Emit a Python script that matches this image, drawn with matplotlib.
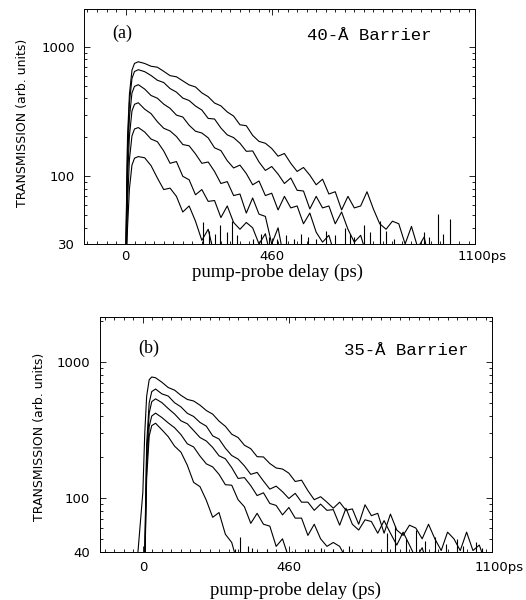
import matplotlib
matplotlib.use('Agg')
import matplotlib.pyplot as plt
from matplotlib.ticker import FixedLocator, NullFormatter, MultipleLocator

# pump-probe delay grid (ps), shared by every trace
delay = [-40, 0, 6, 12, 20, 28, 40, 60, 80, 100, 120, 140, 160, 180, 200, 220,
         240, 260, 280, 300, 320, 340, 360, 380, 400, 420, 440, 460, 480, 500,
         520, 540, 560, 580, 600, 620, 640, 660, 680, 700, 720, 740, 760, 780,
         800, 820, 840, 860, 880, 900, 920, 940, 960, 980, 1000, 1020, 1040,
         1060, 1080]

# (a) 40-A barrier, six excitation levels (transmission, arb. units)
a1 = [5, 22, 200, 430, 660, 745, 767, 744, 708, 696, 647, 599, 587, 546, 508, 490,
      441, 412, 368, 350, 314, 292, 250, 246, 207, 186, 180, 164, 143, 150, 126,
      109, 117, 102, 86, 95, 73, 76, 55, 70, 57, 59, 76, 56, 43, 39, 45, 43, 30,
      41, 28, 34, 20]
a2 = [5, 20, 170, 370, 570, 645, 666, 643, 601, 552, 530, 476, 447, 402, 385, 349,
      325, 280, 277, 236, 209, 199, 180, 156, 157, 129, 111, 119, 104, 88, 97, 78,
      77, 56, 70, 57, 59, 43, 53, 39, 31, 35, 24, 15]
a3 = [5, 18, 130, 285, 440, 495, 510, 472, 421, 401, 361, 335, 297, 287, 248, 223,
      216, 198, 166, 158, 132, 116, 122, 105, 86, 92, 71, 74, 55, 70, 57, 59, 43,
      52, 37, 31, 35, 24, 14]
a4 = [5, 16, 95, 205, 320, 360, 370, 330, 305, 264, 235, 224, 203, 176, 172, 149,
      126, 129, 109, 88, 91, 71, 73, 52, 68, 51, 49, 30, 40, 22, 14]
a5 = [5, 15, 62, 135, 205, 232, 238, 220, 194, 185, 157, 126, 130, 100, 94, 72, 79,
      64, 65, 48, 59, 44, 39, 44, 40, 30, 36, 22, 14]
a6 = [5, 14, 40, 80, 122, 138, 142, 139, 121, 97, 79, 81, 70, 53, 59, 45, 32, 39,
      24, 14]
spike_a_t = [245, 262, 280, 298, 318, 336, 352, 400, 425, 450, 478, 505, 530, 552,
             575, 600, 630, 660, 690, 705, 720, 750, 770, 800, 820, 845, 940, 955,
             985, 1000, 1020]
spike_a_v = [44, 38, 36, 42, 37, 45, 35, 33, 36, 34, 33, 35, 33, 36, 34, 33, 38, 35,
             40, 36, 34, 42, 37, 45, 38, 33, 37, 34, 51, 36, 47]

# (b) 35-A barrier, five excitation levels
b1 = [8, 110, 300, 560, 740, 775, 765, 709, 648, 620, 568, 530, 516, 481, 439, 413,
      367, 336, 294, 278, 244, 230, 201, 200, 179, 166, 163, 152, 132, 135, 113,
      97, 102, 93, 84, 93, 81, 83, 64, 89, 74, 77, 55, 76, 58, 53, 63, 60, 50, 64,
      50, 41, 56, 50, 41, 56, 41, 45, 33]
b2 = [5, 12, 40, 250, 500, 605, 632, 582, 561, 501, 467, 419, 397, 359, 337, 286,
      271, 232, 205, 193, 172, 149, 154, 133, 116, 122, 111, 99, 108, 93, 93, 81,
      90, 81, 82, 63, 84, 64, 58, 69, 67, 55, 68, 55, 45, 56, 45, 36, 43, 30, 40,
      25]
b3 = [5, 12, 36, 210, 420, 510, 535, 502, 454, 414, 369, 351, 313, 278, 262, 235,
      204, 194, 167, 139, 141, 123, 104, 109, 91, 88, 75, 85, 71, 71, 53, 64, 50,
      44, 47, 44, 36, 40, 28, 18]
b4 = [5, 11, 32, 165, 335, 400, 420, 390, 356, 328, 292, 250, 237, 203, 178, 169,
      149, 125, 124, 97, 86, 65, 77, 64, 62, 44, 50, 36, 38, 26, 16]
b5 = [5, 10, 30, 140, 285, 340, 354, 317, 282, 240, 217, 174, 130, 121, 96, 72, 78,
      54, 47, 32, 24, 14]
spike_b_t = [290, 306, 330, 345, 360, 390, 470, 520, 560, 600, 650, 690, 720, 770,
             795, 830, 860, 890, 920, 955, 990, 1010, 1050, 1070]
spike_b_v = [42, 52, 44, 43, 41, 42, 41, 42, 43, 42, 44, 42, 41, 55, 62, 50, 58, 48,
             52, 46, 50, 44, 47, 43]

panels = [
    dict(rect=[84 / 526, 356 / 600, 391 / 526, 235 / 600], xlim=(-131, 1100),
         ylim=(30, 1960), yticks=[30, 100, 1000], curves=[a1, a2, a3, a4, a5, a6],
         spikes=(spike_a_t, spike_a_v), tag='(a)', tag_xy=(0.097, 0.898),
         title='40-Å Barrier', title_xy=(0.570, 0.868), xpad=4.0, ypad=6.5,
         ylab_xy=(23, 123), xlab_xy=(278, 272)),
    dict(rect=[100 / 526, 48 / 600, 392 / 526, 235 / 600], xlim=(-135, 1100),
         ylim=(40, 2140), yticks=[40, 100, 1000], curves=[b1, b2, b3, b4, b5],
         spikes=(spike_b_t, spike_b_v), tag='(b)', tag_xy=(0.125, 0.868),
         title='35-Å Barrier', title_xy=(0.622, 0.838), xpad=6.5, ypad=7.0,
         ylab_xy=(40, 437), xlab_xy=(295, 590)),
]

fig = plt.figure(figsize=(5.26, 6.0), dpi=100)

for p in panels:
    ax = fig.add_axes(p['rect'])
    for v in p['curves']:
        ax.plot(delay[:len(v)], v, color='black', lw=0.8)
    st, sv = p['spikes']
    ax.vlines(st, p['ylim'][0], sv, color='black', lw=0.8)

    ax.set_yscale('log')
    ax.set_xlim(*p['xlim'])
    ax.set_ylim(*p['ylim'])
    ax.yaxis.set_major_locator(FixedLocator(p['yticks']))
    ax.set_yticklabels([str(t) for t in p['yticks']])
    ax.yaxis.set_minor_formatter(NullFormatter())
    ax.set_xticks([0, 460, 1100])
    ax.set_xticklabels(['0', '460', ''])
    ax.xaxis.set_minor_locator(MultipleLocator(30))
    # last tick label sits with its digits centred on the right edge
    ax.annotate('1100ps', xy=(1, 0), xycoords='axes fraction',
                xytext=(-12.5, -p['xpad']), textcoords='offset points',
                ha='left', va='top', fontsize=9.5)

    ax.tick_params(which='both', direction='in', top=True, right=True,
                   width=0.6, color='black')
    ax.tick_params(which='major', length=4)
    ax.tick_params(which='minor', length=2)
    ax.tick_params(axis='x', pad=p['xpad'], labelsize=9.5)
    ax.tick_params(axis='y', pad=p['ypad'], labelsize=9.5)
    for s in ax.spines.values():
        s.set_linewidth(0.7)

    ax.text(*p['tag_xy'], p['tag'], transform=ax.transAxes, ha='center',
            va='center', fontsize=13, family='Liberation Serif')
    ax.text(*p['title_xy'], p['title'], transform=ax.transAxes, ha='left',
            va='baseline', fontsize=12.5, family='Liberation Mono')

    fig.text(p['ylab_xy'][0] / 526, 1 - p['ylab_xy'][1] / 600,
             'TRANSMISSION (arb. units)', rotation=90, ha='center', va='center',
             fontsize=9)
    fig.text(p['xlab_xy'][0] / 526, 1 - p['xlab_xy'][1] / 600,
             'pump-probe delay (ps)', ha='center', va='center', fontsize=13.5,
             family='Liberation Serif')

fig.savefig('out.png', dpi=100)
